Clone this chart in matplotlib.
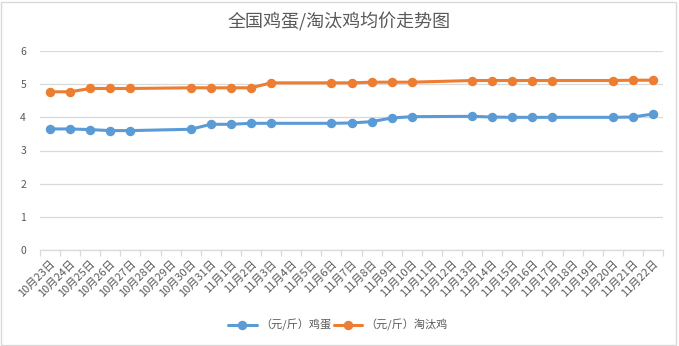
import matplotlib.pyplot as plt
from matplotlib.patches import Rectangle

plt.rcParams['font.family'] = ['Noto Sans CJK SC', 'DejaVu Sans']

dates = ['10月23日', '10月24日', '10月25日', '10月26日', '10月27日', '10月28日', '10月29日',
         '10月30日', '10月31日', '11月1日', '11月2日', '11月3日', '11月4日', '11月5日',
         '11月6日', '11月7日', '11月8日', '11月9日', '11月10日', '11月11日', '11月12日',
         '11月13日', '11月14日', '11月15日', '11月16日', '11月17日', '11月18日', '11月19日',
         '11月20日', '11月21日', '11月22日']

# None = no quote that day (line joins across the gap)
egg = [3.65, 3.65, 3.63, 3.60, 3.60, None, None,
       3.64, 3.79, 3.79, 3.82, 3.82, None, None,
       3.82, 3.83, 3.87, 3.98, 4.02, None, None,
       4.03, 4.01, 4.00, 4.00, 4.00, None, None,
       4.00, 4.01, 4.10]
hen = [4.77, 4.77, 4.87, 4.87, 4.87, None, None,
       4.89, 4.89, 4.89, 4.89, 5.04, None, None,
       5.04, 5.04, 5.06, 5.06, 5.06, None, None,
       5.11, 5.11, 5.11, 5.11, 5.11, None, None,
       5.11, 5.12, 5.12]

series = [('（元/斤）鸡蛋', egg, '#5B9BD5'), ('（元/斤）淘汰鸡', hen, '#ED7D31')]
grey = '#595959'

fig = plt.figure(figsize=(6.79, 3.46), dpi=100)
ax = fig.add_axes([40 / 679, 1 - 250 / 346, 623 / 679, 199 / 346])

for name, vals, color in series:
    xs = [i for i, v in enumerate(vals) if v is not None]
    ys = [v for v in vals if v is not None]
    ax.plot(xs, ys, color=color, lw=2.2, marker='o', ms=5.8, label=name,
            solid_capstyle='round')

ax.set_xlim(-0.5, len(dates) - 0.5)
ax.set_ylim(0, 6)
ax.set_yticks(range(7))
ax.grid(axis='y', color='#d9d9d9', lw=0.9)
ax.set_axisbelow(True)
for s in ['top', 'right', 'left']:
    ax.spines[s].set_visible(False)
ax.spines['bottom'].set_color('#d9d9d9')
ax.spines['bottom'].set_linewidth(0.9)

ax.set_xticks(range(len(dates)))
ax.set_xticklabels(dates, rotation=45, ha='right', rotation_mode='anchor',
                   fontsize=8, color=grey)
ax.set_xticks([i - 0.5 for i in range(len(dates) + 1)], minor=True)
ax.tick_params(axis='x', which='major', length=0, pad=6)
ax.tick_params(axis='x', which='minor', length=4, color='#d9d9d9', width=0.9)
ax.tick_params(axis='y', length=0, labelsize=7.5, labelcolor=grey, pad=10)

fig.text(0.5, 1 - 22 / 346, '全国鸡蛋/淘汰鸡均价走势图', ha='center', va='center',
         fontsize=13, color=grey)
fig.legend(loc='center', bbox_to_anchor=(338 / 679, 1 - 325 / 346), ncol=2,
           frameon=False, fontsize=8, handlelength=2.6, handletextpad=0.3,
           columnspacing=0.2, labelcolor=grey)

fig.patches.append(Rectangle((0.002, 0.004), 0.994, 0.99, transform=fig.transFigure,
                             fill=False, ec='#d9d9d9', lw=1))

fig.savefig('out.png', dpi=100)
